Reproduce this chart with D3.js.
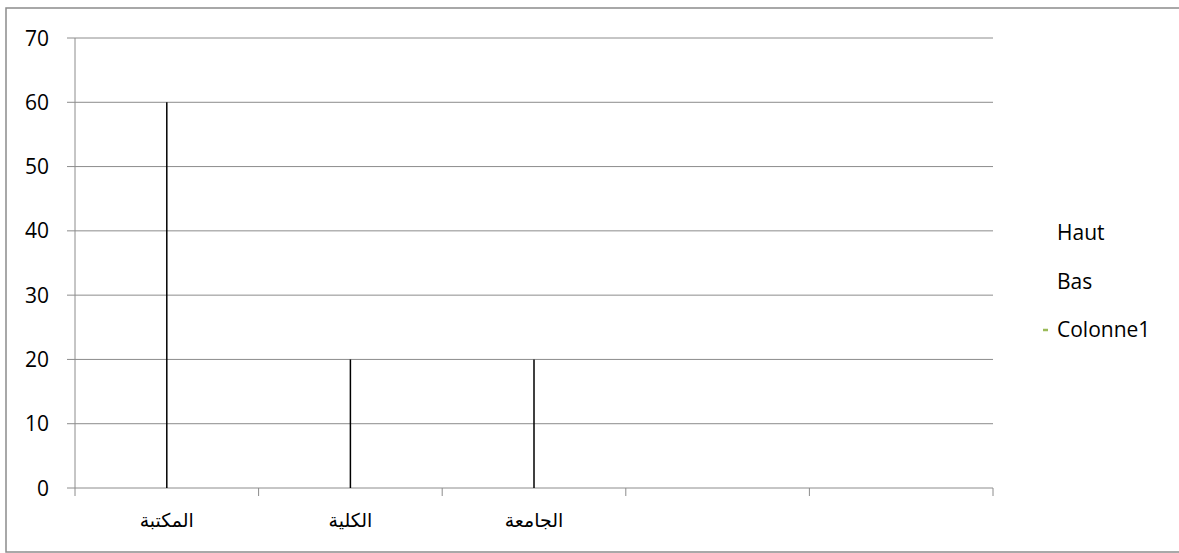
<!DOCTYPE html>
<html>
<head>
<meta charset="utf-8">
<script src="https://cdn.jsdelivr.net/npm/d3@7"></script>
<style>
  body { margin: 0; background: #fff; }
  text { font-family: "Open Sans", "Liberation Sans", sans-serif; fill: #000; }
</style>
</head>
<body>
<script>
// categories (5 slots, only the first three are labelled)
var categories = ["المكتبة", "الكلية", "الجامعة", "", " "];
var haut = [60, 20, 20, null, null];
var bas = [0, 0, 0, null, null];
var yTicks = [0, 10, 20, 30, 40, 50, 60, 70];
var legendNames = ["Haut", "Bas", "Colonne1"];

var width = 1179, height = 553;
var svg = d3.select("body").append("svg")
    .attr("width", width)
    .attr("height", height);

// outer chart frame
svg.append("rect")
    .attr("x", 6).attr("y", 8)
    .attr("width", 1180).attr("height", 544)
    .style("fill", "none")
    .style("stroke", "#8c8c8c")
    .style("stroke-width", "1.5px");

var plotLeft = 75, plotRight = 993, plotTop = 38, plotBottom = 488;

var x = d3.scaleBand().domain(categories).range([plotLeft, plotRight]);
var y = d3.scaleLinear().domain([0, 70]).range([plotBottom, plotTop]);

// gridlines
svg.append("g").selectAll("line")
    .data(yTicks)
    .enter().append("line")
    .attr("x1", plotLeft - 8).attr("x2", plotRight)
    .attr("y1", function (d) { return y(d); })
    .attr("y2", function (d) { return y(d); })
    .style("stroke", "#8c8c8c")
    .style("stroke-width", "1px");

// y axis line
svg.append("line")
    .attr("x1", plotLeft).attr("x2", plotLeft)
    .attr("y1", plotTop).attr("y2", plotBottom)
    .style("stroke", "#8c8c8c");

// y tick labels
svg.append("g").selectAll("text")
    .data(yTicks)
    .enter().append("text")
    .attr("x", 49)
    .attr("y", function (d) { return y(d) + 7.5; })
    .style("text-anchor", "end")
    .style("font-size", "21px")
    .text(function (d) { return d; });

// x axis ticks at band edges
var edges = categories.map(function (c) { return x(c); }).concat([plotRight]);
svg.append("g").selectAll("line")
    .data(edges)
    .enter().append("line")
    .attr("x1", function (d) { return d; })
    .attr("x2", function (d) { return d; })
    .attr("y1", plotBottom).attr("y2", plotBottom + 8)
    .style("stroke", "#8c8c8c");

// category labels
svg.append("g").selectAll("text")
    .data(categories)
    .enter().append("text")
    .attr("x", function (d) { return x(d) + x.bandwidth() / 2; })
    .attr("y", 527)
    .style("text-anchor", "middle")
    .style("font-family", "'DejaVu Sans', sans-serif")
    .style("font-size", "19px")
    .text(function (d) { return d.trim(); });

// high-low lines
var hl = categories.map(function (c, i) { return {c: c, hi: haut[i], lo: bas[i]}; })
    .filter(function (d) { return d.hi != null; });
svg.append("g").selectAll("line")
    .data(hl)
    .enter().append("line")
    .attr("x1", function (d) { return x(d.c) + x.bandwidth() / 2; })
    .attr("x2", function (d) { return x(d.c) + x.bandwidth() / 2; })
    .attr("y1", function (d) { return y(d.hi); })
    .attr("y2", function (d) { return y(d.lo); })
    .style("stroke", "#000")
    .style("stroke-width", "1.5px");

// legend
var legend = svg.append("g").selectAll("g")
    .data(legendNames)
    .enter().append("g")
    .attr("transform", function (d, i) { return "translate(1057," + (240 + i * 48.5) + ")"; });

legend.append("text")
    .style("font-size", "21px")
    .text(function (d) { return d; });

legend.filter(function (d) { return d === "Colonne1"; })
    .append("line")
    .attr("x1", -14).attr("x2", -9)
    .attr("y1", -7).attr("y2", -7)
    .style("stroke", "#9bbb59")
    .style("stroke-width", "2.5px");
</script>
</body>
</html>
